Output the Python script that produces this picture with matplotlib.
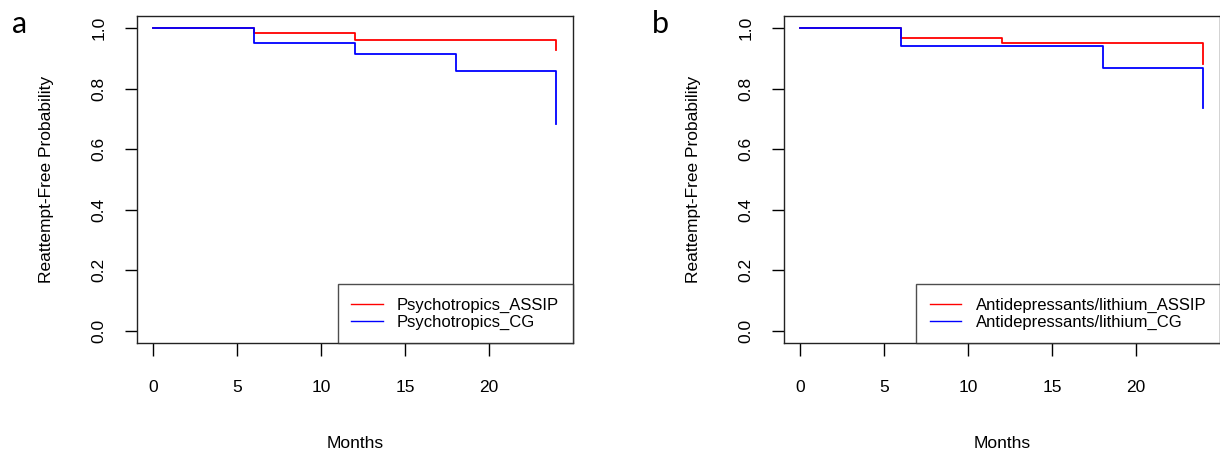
import matplotlib
matplotlib.use("Agg")
import matplotlib.pyplot as plt

plt.rcParams['font.family'] = ['Liberation Sans', 'DejaVu Sans']

# event times (months) and survival estimates
months = [0, 6, 12, 18, 24]

psy_assip = [1.0, 0.984, 0.961, 0.961, 0.926]
psy_cg = [1.0, 0.951, 0.914, 0.859, 0.683]

adl_assip = [1.0, 0.966, 0.950, 0.950, 0.881]
adl_cg = [1.0, 0.942, 0.942, 0.868, 0.736]

panels = [
    ("a", "Psychotropics_ASSIP", "Psychotropics_CG", psy_assip, psy_cg),
    ("b", "Antidepressants/lithium_ASSIP", "Antidepressants/lithium_CG", adl_assip, adl_cg),
]

x_ticks = [0, 5, 10, 15, 20]
y_ticks = [0.0, 0.2, 0.4, 0.6, 0.8, 1.0]

fig = plt.figure(figsize=(12.2, 4.5), dpi=100)
lefts = [0.1123, 0.6426]
label_x = [0.0098, 0.534]

for i, (tag, lab1, lab2, s1, s2) in enumerate(panels):
    ax = fig.add_axes([lefts[i], 0.2378, 0.357, 0.7267])
    ax.step(months, s1, where='post', color='red', lw=1.3, label=lab1)
    ax.step(months, s2, where='post', color='blue', lw=1.3, label=lab2)
    ax.set_xlim(-0.96, 24.96)
    ax.set_ylim(-0.04, 1.04)
    ax.set_xticks(x_ticks)
    ax.set_yticks(y_ticks)
    ax.set_yticklabels([f"{v:.1f}" for v in y_ticks], rotation=90, va='center')
    ax.tick_params(direction='out', length=9, width=1, labelsize=12.5, pad=18)
    ax.tick_params(axis='y', pad=13)
    for sp in ax.spines.values():
        sp.set_color('#222222')
        sp.set_linewidth(1.0)
    ax.set_xlabel("Months", fontsize=12.5, labelpad=29)
    ax.set_ylabel("Reattempt-Free Probability", fontsize=12.5, labelpad=27)
    leg = ax.legend(loc='lower right', fontsize=12, fancybox=False, borderaxespad=0,
                    handlelength=1.9, handletextpad=0.85, borderpad=0.8, labelspacing=0.12)
    leg.get_frame().set_edgecolor('#222222')
    leg.get_frame().set_linewidth(1.0)
    for ln in leg.get_lines():
        ln.set_linewidth(1.0)
    fig.text(label_x[i], 1 - 33 / 450, tag, fontsize=22, va='baseline', ha='left',
             family=['Lato', 'DejaVu Sans'])

fig.savefig("out.png", dpi=100)
